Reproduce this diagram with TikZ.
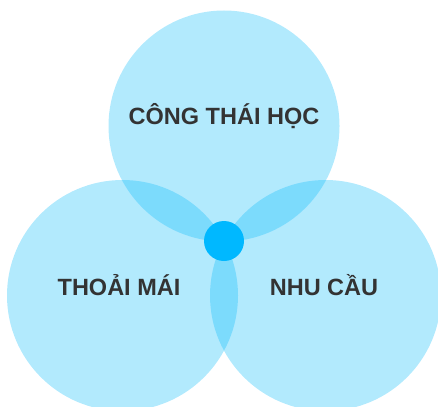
\documentclass[tikz,border=0pt]{standalone}
\usepackage{fontspec}
\setmainfont{Liberation Sans}
\usepackage{tikz}
\usetikzlibrary{positioning}

\definecolor{petalBlue}{RGB}{0,184,250}
\definecolor{hubBlue}{RGB}{0,184,255}
\definecolor{labelGray}{RGB}{51,51,51}

\begin{document}
\begin{tikzpicture}[
                x=1pt, y=-1pt,
                % Circle Styles
                petal/.style = {circle, fill=petalBlue, fill opacity=0.3, draw=none, minimum size=231pt, inner sep=0pt},
                hub/.style = {circle, fill=hubBlue, draw=none, minimum size=40pt, inner sep=0pt},
                % Text Style
                petalText/.style = {text=labelGray, font=\fontsize{23.5}{28}\selectfont\bfseries, inner sep=0pt}
            ]
                \useasboundingbox (0,0) rectangle (438,406);
                \clip (0,0) rectangle (438,406);

                % ==========================================
                % THREE OVERLAPPING CIRCLES
                % ==========================================
                \node[petal] (Top) at (224,126) {};
                \node[petal] (Left) at (122.5,295.5) {};
                \node[petal] (Right) at (325.5,295.5) {};

                % ==========================================
                % CENTRE DOT
                % ==========================================
                \node[hub] (Hub) at (224,241) {};

                % Circle titles
                \node[petalText] (TopText) at ([yshift=10pt]Top.center) {CÔNG THÁI HỌC};
                \node[petalText] (LeftText) at ([xshift=-3.5pt, yshift=10pt]Left.center) {THOẢI MÁI};
                \node[petalText] (RightText) at ([xshift=-1.5pt, yshift=10pt]Right.center) {NHU CẦU};

            \end{tikzpicture}
\end{document}
